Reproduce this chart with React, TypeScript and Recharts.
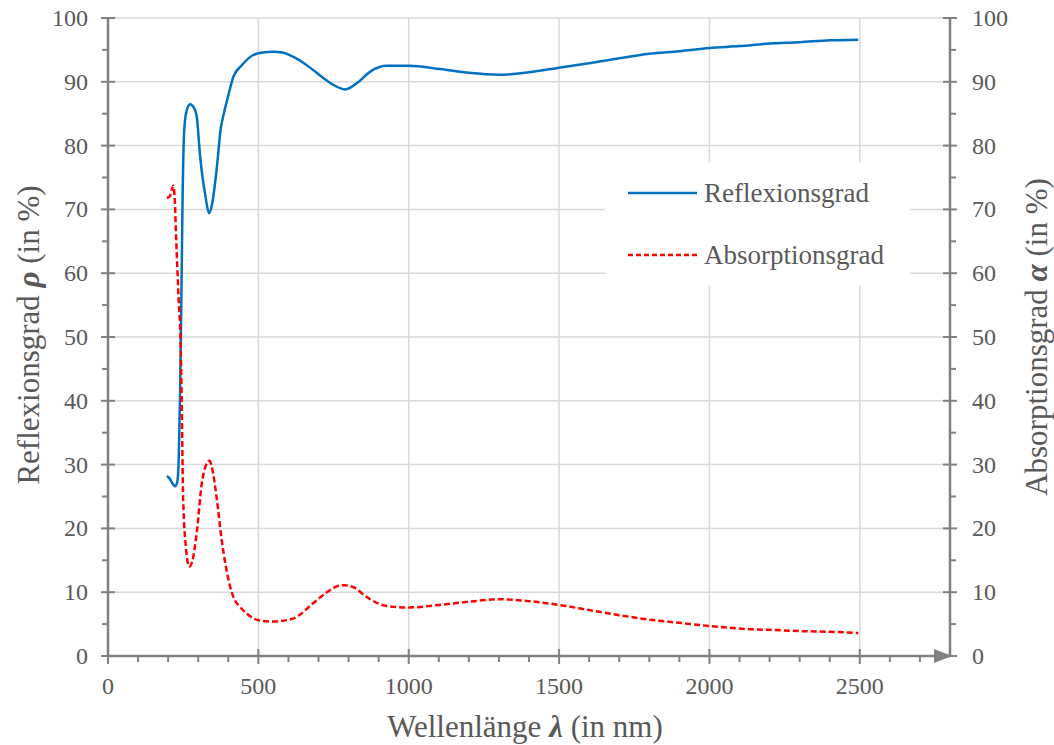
import { LineChart, Line, XAxis, YAxis, CartesianGrid, Legend } from 'recharts';

// Wellenlänge (nm) und Reflexionsgrad (%)
const reflexWavelength = [
  196, 205, 215, 223, 230, 235, 240, 245, 248, 253, 260, 273, 285, 295, 306, 315, 323, 336, 346, 356,
  365, 373, 385, 396, 417, 445, 483, 515, 550, 580, 617, 661, 700, 716, 750, 789, 828, 872, 927, 1000,
  1105, 1200, 1300, 1400, 1500, 1600, 1700, 1800, 1900, 2000, 2100, 2200, 2300, 2400, 2495,
];
const reflexValues = [
  28.2, 27.8, 27.0, 26.6, 27.2, 30.5, 42.0, 60.0, 71.5, 82.0, 85.2, 86.5, 86.0, 84.6, 78.5, 74.8, 72.4,
  69.4, 70.8, 74.1, 78.0, 82.0, 85.0, 87.1, 90.8, 92.6, 94.2, 94.6, 94.7, 94.6, 93.9, 92.6, 91.2, 90.6,
  89.5, 88.8, 89.8, 91.6, 92.5, 92.5, 92.0, 91.4, 91.1, 91.5, 92.2, 92.9, 93.7, 94.4, 94.8, 95.3, 95.6,
  96.0, 96.2, 96.5, 96.6,
];

// Wellenlänge (nm) und Absorptionsgrad (%)
const absorpWavelength = [
  196, 205, 212, 217, 222, 226, 235, 242, 245, 250, 260, 270, 280, 295, 312, 325, 337, 350, 362, 378,
  392, 406, 420, 439, 460, 484, 515, 550, 617, 683, 728, 755, 785, 820, 850, 900, 950, 1000, 1100, 1200,
  1300, 1400, 1500, 1600, 1700, 1800, 1900, 2000, 2137, 2200, 2300, 2400, 2495,
];
const absorpValues = [
  71.8, 72.0, 73.0, 73.7, 71.5, 66.3, 55.8, 48.3, 40.0, 24.5, 16.6, 14.0, 14.8, 19.3, 27.1, 29.8, 30.6,
  28.5, 24.5, 18.2, 14.0, 10.9, 8.9, 7.7, 6.7, 5.9, 5.5, 5.4, 5.9, 8.3, 10.0, 10.8, 11.1, 10.7, 9.6, 8.2,
  7.7, 7.6, 8.0, 8.5, 8.9, 8.6, 8.0, 7.2, 6.4, 5.7, 5.2, 4.7, 4.2, 4.1, 3.9, 3.8, 3.6,
];

const xTicks = Array.from({ length: 29 }, (_, i) => i * 100);
const xLabels = [0, 500, 1000, 1500, 2000, 2500];
const yTicks = Array.from({ length: 21 }, (_, i) => i * 5);
const yGrid = [10, 20, 30, 40, 50, 60, 70, 80, 90, 100];

const reflexData = reflexWavelength.map((w, i) => ({ wl: w, rho: reflexValues[i] }));
const absorpData = absorpWavelength.map((w, i) => ({ wl: w, alpha: absorpValues[i] }));

const FONT = '"Liberation Serif", "Times New Roman", serif';
const TEXT = '#595959';
const AXIS = '#808080';

function XTick({ x, y, payload }: any) {
  const v = payload.value;
  if (v === 2800) {
    return <path d={`M${x - 16},${y - 7} L${x + 2},${y} L${x - 16},${y + 7} Z`} fill={AXIS} />;
  }
  const major = v % 500 === 0;
  return (
    <g>
      <line x1={x} x2={x} y1={major ? y - 7 : y} y2={major ? y + 8 : y + 6} stroke={AXIS} strokeWidth={2} />
      {xLabels.includes(v) && (
        <text x={x} y={y + 38} textAnchor="middle" fontSize={24} fill={TEXT} fontFamily={FONT}>
          {v}
        </text>
      )}
    </g>
  );
}

function YTickLeft({ x, y, payload }: any) {
  const v = payload.value;
  const major = v % 10 === 0;
  return (
    <g>
      <line x1={major ? x - 7 : x - 6} x2={major ? x + 7 : x} y1={y} y2={y} stroke={AXIS} strokeWidth={2} />
      {major && (
        <text x={x - 20} y={y + 8} textAnchor="end" fontSize={24} fill={TEXT} fontFamily={FONT}>
          {v}
        </text>
      )}
    </g>
  );
}

function YTickRight({ x, y, payload }: any) {
  const v = payload.value;
  const major = v % 10 === 0;
  return (
    <g>
      <line x1={major ? x - 7 : x} x2={major ? x + 7 : x + 6} y1={y} y2={y} stroke={AXIS} strokeWidth={2} />
      {major && (
        <text x={x + 22} y={y + 8} textAnchor="start" fontSize={24} fill={TEXT} fontFamily={FONT}>
          {v}
        </text>
      )}
    </g>
  );
}

function XTitle() {
  return (
    <text x={525} y={726} textAnchor="middle" dominantBaseline="central" fontSize={31} fill={TEXT} fontFamily={FONT}>
      Wellenlänge <tspan fontWeight="bold" fontStyle="italic">λ</tspan> (in nm)
    </text>
  );
}

function LeftTitle() {
  return (
    <text x={28} y={335} transform="rotate(-90 28 335)" textAnchor="middle" dominantBaseline="central"
      fontSize={31} fill={TEXT} fontFamily={FONT}>
      Reflexionsgrad <tspan fontWeight="bold" fontStyle="italic">ρ</tspan> (in %)
    </text>
  );
}

function RightTitle() {
  return (
    <text x={1036} y={337} transform="rotate(-90 1036 337)" textAnchor="middle" dominantBaseline="central"
      fontSize={31} fill={TEXT} fontFamily={FONT}>
      Absorptionsgrad <tspan fontWeight="bold" fontStyle="italic">α</tspan> (in %)
    </text>
  );
}

function LegendBox() {
  const row = (label: string, color: string, dash?: string) => (
    <div style={{ display: 'flex', alignItems: 'center', height: 62 }}>
      <svg width={99} height={10} style={{ flex: 'none' }}>
        <line x1={23} x2={92} y1={5} y2={5} stroke={color} strokeWidth={2.5} strokeDasharray={dash} />
      </svg>
      <span style={{ fontFamily: FONT, fontSize: 27, color: TEXT }}>{label}</span>
    </div>
  );
  return (
    <div style={{ background: '#fff' }}>
      {row('Reflexionsgrad', '#0070c0')}
      {row('Absorptionsgrad', '#ff0000', '5 3')}
    </div>
  );
}

export default function App() {
  return (
    <div style={{ position: 'absolute', left: 0, top: 0, background: '#fff' }}>
      <LineChart width={1054} height={745} margin={{ top: 18, right: 0, bottom: 0, left: 0 }}>
        <CartesianGrid
          yAxisId="left"
          stroke="#d9d9d9"
          strokeWidth={1.5}
          verticalValues={[500, 1000, 1500, 2000, 2500]}
          horizontalValues={yGrid}
        />
        <XAxis
          dataKey="wl"
          type="number"
          domain={[0, 2800]}
          ticks={xTicks}
          interval={0}
          height={89}
          tickSize={0}
          tickMargin={0}
          tickLine={false}
          tick={<XTick />}
          axisLine={{ stroke: AXIS, strokeWidth: 2.5 }}
          allowDuplicatedCategory={false}
          label={<XTitle />}
        />
        <YAxis
          yAxisId="left"
          orientation="left"
          domain={[0, 100]}
          ticks={yTicks}
          interval={0}
          width={108}
          tickSize={0}
          tickMargin={0}
          tickLine={false}
          tick={<YTickLeft />}
          axisLine={{ stroke: AXIS, strokeWidth: 2.5 }}
          label={<LeftTitle />}
        />
        <YAxis
          yAxisId="right"
          orientation="right"
          domain={[0, 100]}
          ticks={yTicks}
          interval={0}
          width={104}
          tickSize={0}
          tickMargin={0}
          tickLine={false}
          tick={<YTickRight />}
          axisLine={{ stroke: AXIS, strokeWidth: 2.5 }}
          label={<RightTitle />}
        />
        <Legend
          layout="vertical"
          align="center"
          verticalAlign="middle"
          content={<LegendBox />}
          wrapperStyle={{ left: 605, top: 162, width: 305, height: 124 }}
        />
        <Line
          yAxisId="left"
          data={reflexData}
          dataKey="rho"
          name="Reflexionsgrad"
          type="monotone"
          stroke="#0070c0"
          strokeWidth={2.5}
          dot={false}
          isAnimationActive={false}
        />
        <Line
          yAxisId="right"
          data={absorpData}
          dataKey="alpha"
          name="Absorptionsgrad"
          type="monotone"
          stroke="#ff0000"
          strokeWidth={2.5}
          strokeDasharray="6 3"
          dot={false}
          isAnimationActive={false}
        />
      </LineChart>
    </div>
  );
}
